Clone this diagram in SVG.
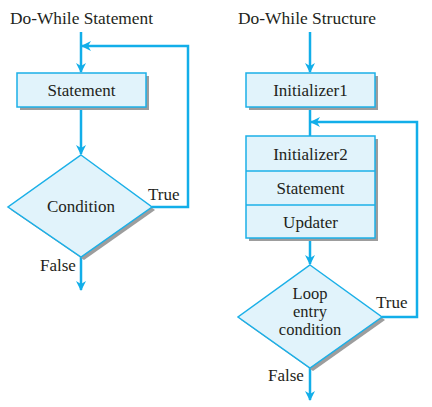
<svg xmlns="http://www.w3.org/2000/svg" width="432" height="407" viewBox="0 0 432 407">
<defs>
<style>
.c{text-anchor:middle}
.box{fill:#e1f3fb;stroke:#1bb0e8;stroke-width:1.5}
.sh{fill:#9d9d9d}
.ln{fill:none;stroke:#12aee9;stroke-width:2.5}
</style>
<marker id="ah" viewBox="0 0 10 10" refX="9" refY="5" markerWidth="4" markerHeight="4.4" orient="auto" markerUnits="strokeWidth">
<path d="M0,0 L10,5 L0,10 L3,5 Z" fill="#12aee9"/>
</marker>
</defs>
<rect width="432" height="407" fill="#fff"/>
<g font-family="Liberation Serif" font-size="17" fill="#231f20">
<text x="10" y="24" textLength="143" lengthAdjust="spacingAndGlyphs">Do-While Statement</text>
<text x="238" y="24" textLength="138" lengthAdjust="spacingAndGlyphs">Do-While Structure</text>
</g>
<g id="connectors">
<line class="ln" x1="81" y1="32" x2="81" y2="72" marker-end="url(#ah)"/>
<line class="ln" x1="81" y1="107" x2="81" y2="154" marker-end="url(#ah)"/>
<polyline class="ln" points="152,207 188,207 188,46 82,46" marker-end="url(#ah)"/>
<line class="ln" x1="81" y1="257" x2="81" y2="290" marker-end="url(#ah)"/>
<line class="ln" x1="310" y1="32" x2="310" y2="72" marker-end="url(#ah)"/>
<line class="ln" x1="310" y1="107" x2="310" y2="136"/>
<polyline class="ln" points="382,317 417,317 417,122 311,122" marker-end="url(#ah)"/>
<line class="ln" x1="310" y1="238" x2="310" y2="264" marker-end="url(#ah)"/>
<line class="ln" x1="310" y1="368" x2="310" y2="400" marker-end="url(#ah)"/>
</g>
<g id="statement" font-family="Liberation Serif" font-size="17" fill="#231f20">
<rect class="sh" x="20" y="76" width="129" height="34"/>
<rect class="box" x="17" y="73" width="129" height="34"/>
<text class="c" x="81.5" y="96">Statement</text>
</g>
<g id="condition" font-family="Liberation Serif" font-size="17" fill="#231f20">
<polygon class="sh" points="84,158 155,210 84,260 11,210"/>
<polygon class="box" points="81,155 152,207 81,257 8,207"/>
<text class="c" x="81" y="212">Condition</text>
<text x="148" y="200">True</text>
<text x="40" y="271">False</text>
</g>
<g id="initializer1" font-family="Liberation Serif" font-size="17" fill="#231f20">
<rect class="sh" x="249" y="76" width="129" height="34"/>
<rect class="box" x="246" y="73" width="129" height="34"/>
<text class="c" x="310.5" y="96">Initializer1</text>
</g>
<g id="body" font-family="Liberation Serif" font-size="17" fill="#231f20">
<rect class="sh" x="249" y="139" width="129" height="102"/>
<rect class="box" x="246" y="136" width="129" height="102"/>
<line x1="246" y1="171" x2="375" y2="171" stroke="#1bb0e8" stroke-width="1.5"/>
<line x1="246" y1="205" x2="375" y2="205" stroke="#1bb0e8" stroke-width="1.5"/>
<text class="c" x="310.5" y="160">Initializer2</text>
<text class="c" x="310.5" y="194">Statement</text>
<text class="c" x="310.5" y="228">Updater</text>
</g>
<g id="loopcondition" font-family="Liberation Serif" font-size="16.5" fill="#231f20">
<polygon class="sh" points="313,268 385,320 313,371 241,320"/>
<polygon class="box" points="310,265 382,317 310,368 238,317"/>
<text class="c" x="310" y="299">Loop</text>
<text class="c" x="310" y="317">entry</text>
<text class="c" x="310" y="335">condition</text>
<text x="376" y="308" font-size="17">True</text>
<text x="268" y="381" font-size="17">False</text>
</g>
</svg>
